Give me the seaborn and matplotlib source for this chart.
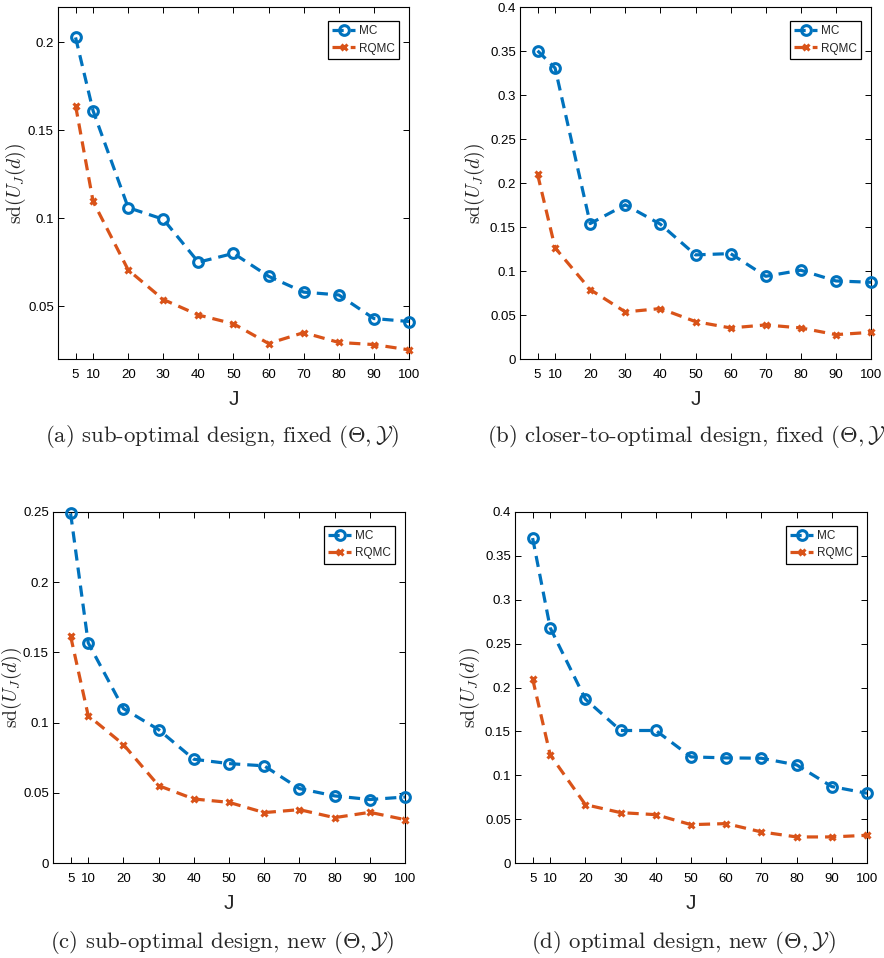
import numpy as np
import pandas as pd
import seaborn as sns
import matplotlib.pyplot as plt
from matplotlib.ticker import FuncFormatter

J = [5, 10, 20, 30, 40, 50, 60, 70, 80, 90, 100]

# (a) sub-optimal design, fixed
mc_a = [0.2027, 0.161, 0.106, 0.0994, 0.075, 0.080, 0.067, 0.058, 0.0564, 0.043, 0.0413]
rqmc_a = [0.164, 0.1095, 0.0706, 0.0538, 0.045, 0.040, 0.0288, 0.035, 0.0294, 0.0282, 0.0252]
# (b) closer-to-optimal design, fixed
mc_b = [0.3503, 0.3306, 0.1539, 0.1752, 0.1532, 0.1183, 0.1198, 0.094, 0.1009, 0.0887, 0.0872]
rqmc_b = [0.210, 0.1263, 0.0789, 0.0535, 0.0573, 0.0425, 0.0353, 0.0387, 0.0353, 0.0277, 0.0303]
# (c) sub-optimal design, new
mc_c = [0.249, 0.1568, 0.110, 0.095, 0.0739, 0.0708, 0.0692, 0.053, 0.0478, 0.0452, 0.047]
rqmc_c = [0.1616, 0.105, 0.0844, 0.0551, 0.0456, 0.0432, 0.0359, 0.038, 0.0323, 0.0361, 0.0309]
# (d) optimal design, new
mc_d = [0.3703, 0.268, 0.1867, 0.151, 0.151, 0.1209, 0.1198, 0.1194, 0.1118, 0.0871, 0.0795]
rqmc_d = [0.2099, 0.1232, 0.0665, 0.0574, 0.0551, 0.0437, 0.0449, 0.0354, 0.0297, 0.0297, 0.0316]

captions = [
    r'(a) sub-optimal design, fixed $(\Theta,\mathcal{Y})$',
    r'(b) closer-to-optimal design, fixed $(\Theta,\mathcal{Y})$',
    r'(c) sub-optimal design, new $(\Theta,\mathcal{Y})$',
    r'(d) optimal design, new $(\Theta,\mathcal{Y})$',
]
ylims = [(0.02, 0.22), (0, 0.4), (0, 0.25), (0, 0.4)]
yticks = [[0.05, 0.1, 0.15, 0.2], np.arange(0, 0.41, 0.05), np.arange(0, 0.26, 0.05), np.arange(0, 0.41, 0.05)]

sns.set_style("ticks")
plt.rcParams['font.family'] = ['Liberation Sans Narrow', 'Liberation Sans', 'DejaVu Sans']
plt.rcParams['mathtext.fontset'] = 'cm'

BLUE = '#0072BD'
ORANGE = '#D95319'

W, H = 884, 958
fig = plt.figure(figsize=(W / 100, H / 100), dpi=100)

# axes boxes in pixels: x0, ytop, x1, ybottom
boxes = [(58, 7, 409, 359), (520, 7, 871, 359), (53, 512, 405, 863), (515, 512, 867, 863)]
ylab_x = [-0.085, -0.095, -0.082, -0.095]
series = [(mc_a, rqmc_a), (mc_b, rqmc_b), (mc_c, rqmc_c), (mc_d, rqmc_d)]

for i, ((x0, y0, x1, y1), (mc, rq)) in enumerate(zip(boxes, series)):
    ax = fig.add_axes([x0 / W, 1 - y1 / H, (x1 - x0) / W, (y1 - y0) / H])
    df = pd.DataFrame({'J': J, 'MC': mc, 'RQMC': rq})
    sns.lineplot(data=df, x='J', y='MC', ax=ax, color=BLUE, marker='o', ms=7,
                 mfc='none', mec=BLUE, mew=2.2, lw=2.3, ls=(0, (3.5, 2.2)),
                 label='MC', clip_on=False, zorder=3)
    sns.lineplot(data=df, x='J', y='RQMC', ax=ax, color=ORANGE, marker='x', ms=5,
                 mec=ORANGE, mew=2.2, lw=2.3, ls=(0, (3.5, 2.2)),
                 label='RQMC', clip_on=False, zorder=3)
    ax.set_xlim(0, 100)
    ax.set_ylim(*ylims[i])
    ax.set_xticks(J)
    ax.set_yticks(yticks[i])
    ax.yaxis.set_major_formatter(FuncFormatter(lambda v, p: f'{v:.2f}'.rstrip('0').rstrip('.') if v else '0'))
    ax.tick_params(direction='in', top=True, right=True, length=4, width=0.7,
                   labelsize=9.5, colors='black')
    ax.tick_params(axis='x', pad=7)
    ax.tick_params(axis='y', pad=3)
    for s in ax.spines.values():
        s.set_linewidth(0.8)
        s.set_color('black')
    ax.set_xlabel('J', fontsize=15)
    ax.xaxis.set_label_coords(0.5, -0.088)
    ax.set_ylabel(r'$\mathrm{sd}(U_J(d))$', fontsize=14)
    ax.yaxis.set_label_coords(ylab_x[i], 0.5)
    leg = ax.legend(loc='upper right', bbox_to_anchor=(0.9715, 0.96), fontsize=8.5,
                    frameon=True, fancybox=False, framealpha=1, edgecolor='black',
                    handlelength=2.0, handletextpad=0.3, borderpad=0.35, labelspacing=0.45,
                    borderaxespad=0)
    leg.get_frame().set_linewidth(0.9)

cap_pos = [(222, 437, 'center'), (487, 437, 'left'), (222, 943, 'center'), (683, 943, 'center')]
for (cx, cy, ha), cap in zip(cap_pos, captions):
    fig.text(cx / W, 1 - cy / H, cap, ha=ha, va='center', fontsize=16.4, family='cmr10')

fig.savefig('out.png', dpi=100)
